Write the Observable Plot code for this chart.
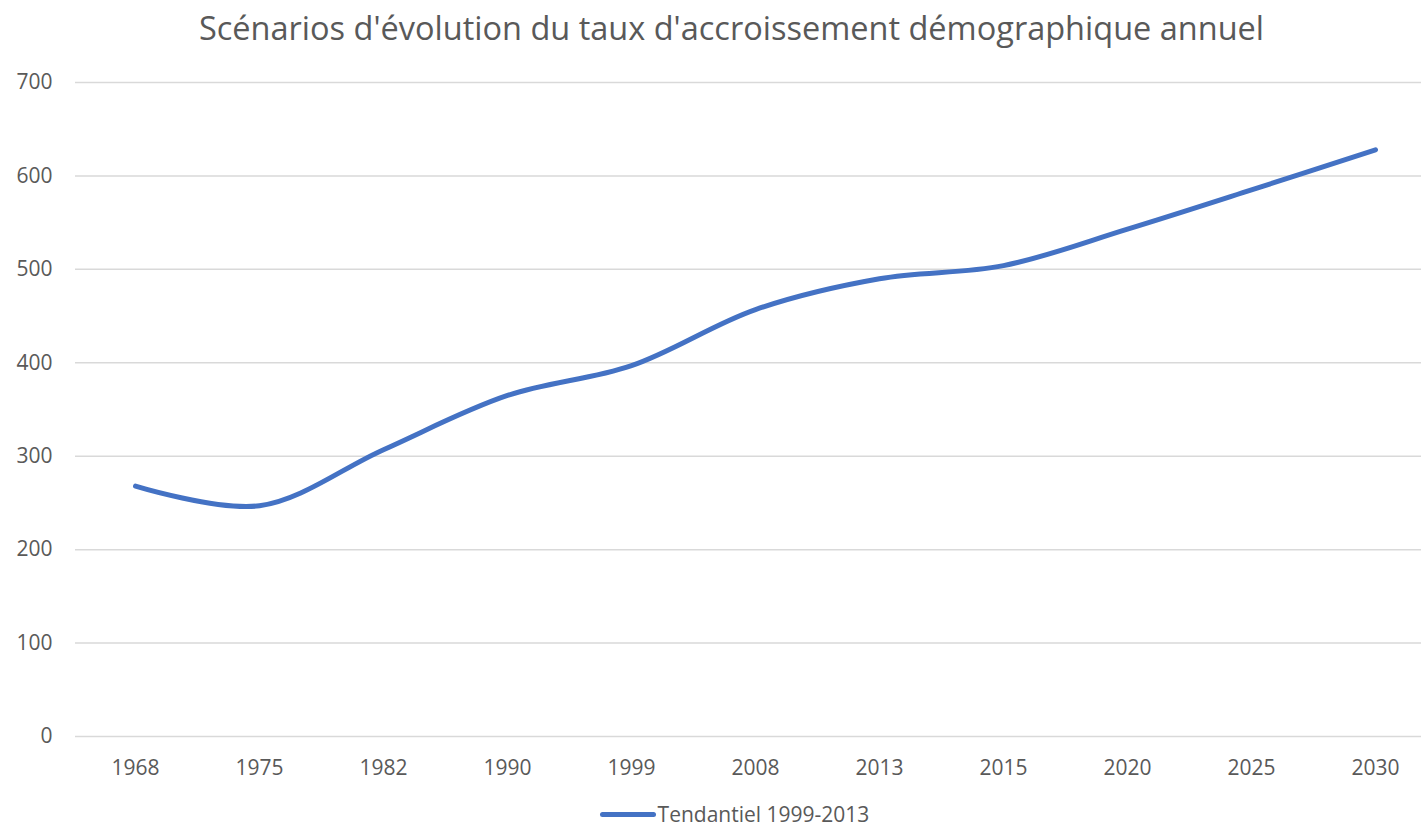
<!DOCTYPE html>
<html>
<head>
<meta charset="utf-8">
<script src="https://cdn.jsdelivr.net/npm/d3@7"></script>
<script src="https://cdn.jsdelivr.net/npm/@observablehq/plot@0.6"></script>
<style>
  html, body { margin: 0; padding: 0; background: #fff; }
  body { width: 1421px; height: 832px; overflow: hidden; font-family: "Open Sans", sans-serif; color: #595959; }
  #title { height: 56px; line-height: 56px; text-align: center; font-size: 32.5px; color: #595959; padding-left: 42px; }
  #legend { height: 36px; display: flex; justify-content: center; align-items: center; font-size: 21px; color: #595959; padding-left: 48px; }
  #legend .sw { width: 56px; height: 5px; border-radius: 3px; background: #4472C4; margin-right: 2px; }
</style>
</head>
<body>
<div id="title">Scénarios d'évolution du taux d'accroissement démographique annuel</div>
<div id="chart"></div>
<div id="legend"><span class="sw"></span><span>Tendantiel 1999-2013</span></div>
<script>
const years = ["1968", "1975", "1982", "1990", "1999", "2008", "2013", "2015", "2020", "2025", "2030"];
const values = [268, 247, 307, 365, 397, 457, 490, 504, 543, 585, 628];
const yTicks = [0, 100, 200, 300, 400, 500, 600, 700];
const seriesName = "Tendantiel 1999-2013";

const data = years.map((y, i) => ({year: y, value: values[i], series: seriesName}));

const chart = Plot.plot({
  width: 1421,
  height: 740,
  marginLeft: 75,
  marginRight: 0,
  marginTop: 26,
  marginBottom: 60,
  style: {fontFamily: "Open Sans, sans-serif", fontSize: "21px", color: "#595959", background: "#fff"},
  x: {type: "point", domain: years, range: [135, 1375], padding: 0, label: null},
  y: {domain: [0, 700], ticks: yTicks, label: null},
  marks: [
    Plot.ruleY(yTicks, {stroke: "#d9d9d9", strokeWidth: 1.5}),
    Plot.axisY({ticks: yTicks, tickSize: 0, tickPadding: 23, label: null, fill: "#595959"}),
    Plot.axisX({tickSize: 0, tickPadding: 24, label: null, fill: "#595959"}),
    Plot.line(data, {x: "year", y: "value", stroke: "#4472C4", strokeWidth: 5, curve: "catmull-rom", strokeLinecap: "round", strokeLinejoin: "round"})
  ]
});
document.getElementById("chart").appendChild(chart);
</script>
</body>
</html>
